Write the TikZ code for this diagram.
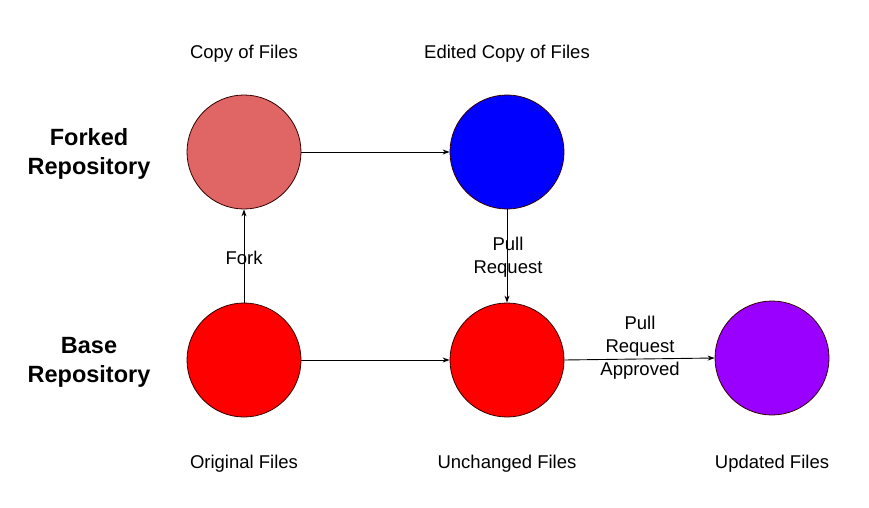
\documentclass[tikz,border=0pt]{standalone}
\usepackage{fontspec}
\setmainfont{Liberation Sans}
\usetikzlibrary{arrows.meta}
\definecolor{lightred}{HTML}{E06666}
\definecolor{pureblue}{HTML}{0000FF}
\definecolor{purered}{HTML}{FF0000}
\definecolor{purple9}{HTML}{9900FF}
\begin{document}
\begin{tikzpicture}[x=1pt,y=-1pt,
  circ/.style={circle,draw=black!80!red,line width=0.8pt,minimum size=114pt,inner sep=0pt},
  lbl/.style={font=\fontsize{18.5}{23}\selectfont,align=center},
  rowlbl/.style={font=\fontsize{23.5}{29}\selectfont\bfseries,align=center},
  conn/.style={line width=0.9pt,-{Stealth[length=7pt,width=5pt]}}]
\useasboundingbox[fill=white] (0,0) rectangle (869,508);
\node[circ,fill=lightred] (copy) at (244,152) {};
\node[circ,fill=pureblue] (edit) at (507,152) {};
\node[circ,fill=purered] (orig) at (244,360) {};
\node[circ,fill=purered] (unch) at (507,360) {};
\node[circ,fill=purple9] (upd) at (772,358) {};
\node[lbl] (tcopy) at (244,54) {Copy of Files};
\node[lbl] (tedit) at (507,54) {Edited Copy of Files};
\node[lbl] (torig) at (244,464) {Original Files};
\node[lbl] (tunch) at (507,464) {Unchanged Files};
\node[lbl] (tupd) at (772,464) {Updated Files};
\node[rowlbl] (fork) at (89,154) {Forked\\Repository};
\node[rowlbl] (base) at (89,362) {Base\\Repository};
\draw[conn] (copy.east) -- (edit.west);
\draw[conn] (orig.north) -- (copy.south);
\draw[conn] (edit.south) -- (unch.north);
\draw[conn] (orig.east) -- (unch.west);
\draw[conn] (unch.east) -- (upd.west);
\node[lbl] (lfork) at (244,258) {Fork};
\node[lbl] (lpr) at (508,257) {Pull\\Request};
\node[lbl] (lpra) at (640,348) {Pull\\Request\\Approved};
\end{tikzpicture}
\end{document}
